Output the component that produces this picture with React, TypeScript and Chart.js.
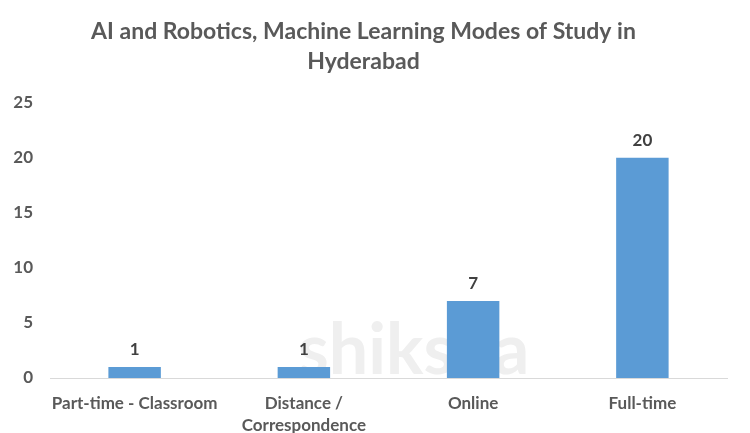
import React, { useEffect, useRef } from "react";
import { Chart, registerables } from "chart.js";

Chart.register(...registerables);

const titleLines = ["AI and Robotics, Machine Learning Modes of Study in", "Hyderabad"];
const categories: (string | string[])[] = [
  "Part-time - Classroom",
  ["Distance /", "Correspondence"],
  "Online",
  "Full-time",
];
const studyCounts = [1, 1, 7, 20];
const yTicks = [0, 5, 10, 15, 20, 25];

const FONT = "Lato, 'Open Sans', sans-serif";
const TEXT = "#595959";
const BAR = "#5B9BD5";

const dataLabels = {
  id: "dataLabels",
  afterDatasetsDraw(chart: any) {
    const ctx = chart.ctx;
    const meta = chart.getDatasetMeta(0);
    ctx.save();
    ctx.font = `bold 17px ${FONT}`;
    ctx.fillStyle = "#404040";
    ctx.textAlign = "center";
    ctx.textBaseline = "bottom";
    meta.data.forEach((el: any, i: number) => {
      ctx.fillText(String(studyCounts[i]), el.x, el.y - 9);
    });
    ctx.restore();
  },
};

const watermark = {
  id: "watermark",
  beforeDatasetsDraw(chart: any) {
    const ctx = chart.ctx;
    ctx.save();
    ctx.font = `bold 70px ${FONT}`;
    ctx.fillStyle = "#efefef";
    ctx.textAlign = "left";
    ctx.textBaseline = "alphabetic";
    ctx.fillText("shiksha", 298, 374);
    ctx.restore();
  },
};

export default function App() {
  const ref = useRef<HTMLCanvasElement | null>(null);
  useEffect(() => {
    document.body.style.margin = "0";
    const chart = new Chart(ref.current!, {
      type: "bar",
      data: {
        labels: categories,
        datasets: [
          {
            data: studyCounts,
            backgroundColor: BAR,
            categoryPercentage: 1,
            barPercentage: 0.31,
          },
        ],
      },
      options: {
        animation: false,
        responsive: false,
        maintainAspectRatio: false,
        layout: { padding: { left: 0, right: 23, top: 0, bottom: 0 } },
        plugins: {
          legend: { display: false },
          tooltip: { enabled: false },
          title: {
            display: true,
            text: titleLines,
            color: TEXT,
            font: { family: FONT, size: 23, weight: "bold", lineHeight: 1.3 },
            padding: { top: 17, bottom: 26 },
          },
        },
        scales: {
          x: {
            grid: { display: false, drawTicks: false },
            border: { display: true, color: "#d9d9d9", width: 1 },
            ticks: {
              color: TEXT,
              font: { family: FONT, size: 17, weight: "bold", lineHeight: 1.3 },
              padding: 14,
              maxRotation: 0,
              autoSkip: false,
            },
            afterFit(scale: any) {
              scale.height = 55;
            },
          },
          y: {
            min: 0,
            max: 25,
            afterBuildTicks(scale: any) {
              scale.ticks = yTicks.map((v) => ({ value: v }));
            },
            grid: { display: false, drawTicks: false },
            border: { display: false },
            ticks: {
              color: TEXT,
              font: { family: FONT, size: 17, weight: "bold" },
              padding: 17,
            },
            afterFit(scale: any) {
              scale.width = 50;
            },
          },
        },
      },
      plugins: [watermark, dataLabels],
    });
    return () => chart.destroy();
  }, []);
  return (
    <div style={{ position: "fixed", left: 0, top: 0, width: 750, height: 433, background: "#fff" }}>
      <canvas ref={ref} width={750} height={433} style={{ width: 750, height: 433 }} />
    </div>
  );
}
